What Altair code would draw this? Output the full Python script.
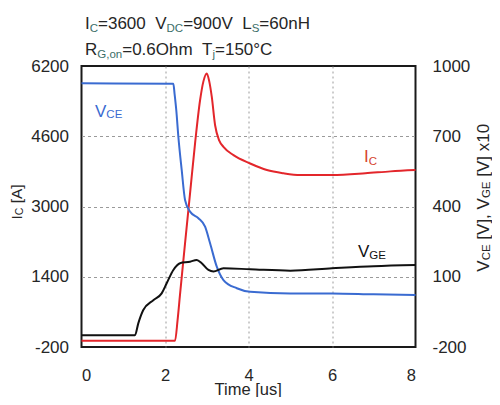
import altair as alt
import pandas as pd

# ---------------- data ----------------
vce_t = [0, 2.20, 2.23, 2.27, 2.32, 2.40, 2.48, 2.60, 2.80, 2.96, 3.08, 3.24, 3.40, 3.72, 4.04, 5.0, 6.0, 7.0, 8.0]
vce_v = [926, 924, 880, 812, 698, 556, 428, 378, 350, 314, 243, 143, 86, 51, 36, 29, 29, 25, 22]

ic_t = [0, 2.24, 2.30, 2.36, 2.48, 2.60, 2.72, 2.84, 2.92, 3.00, 3.06, 3.12, 3.20, 3.30, 3.40,
        3.64, 4.04, 4.44, 4.84, 5.24, 6.0, 6.8, 7.4, 8.0]
ic_a = [-60, -60, 400, 1000, 2160, 3300, 4440, 5420, 5850, 6030, 5850, 5500, 4850, 4500, 4360,
        4170, 3980, 3830, 3756, 3717, 3717, 3756, 3800, 3830]

vge_t = [0, 1.28, 1.36, 1.48, 1.72, 1.92, 2.04, 2.20, 2.36, 2.60, 2.76, 2.88, 3.04, 3.16, 3.40, 4.04, 5.0, 6.0, 7.0, 8.0]
vge_v = [-150, -150, -99, -42, 0, 29, 72, 129, 158, 164, 172, 158, 129, 122, 136, 132, 126, 136, 145, 150]

x_ticks = [0, 2, 4, 6, 8]
left_ticks = [-200, 1400, 3000, 4600, 6200]
right_ticks = [-200, 100, 400, 700, 1000]

# text pieces: (text, is_subscript)
title1 = [("I", False), ("C", True), ("=3600  V", False), ("DC", True), ("=900V  L", False), ("S", True), ("=60nH", False)]
title2 = [("R", False), ("G,on", True), ("=0.6Ohm  T", False), ("j", True), ("=150\u00b0C", False)]
lbl_vce = [("V", False), ("CE", True)]
lbl_ic = [("I", False), ("C", True)]
lbl_vge = [("V", False), ("GE", True)]
xtitle = [("Time [us]", False)]
ytitle_left = [("I", False), ("C", True), (" [A]", False)]
ytitle_right = [("V", False), ("CE", True), (" [V], V", False), ("GE", True), (" [V] x10", False)]

# ---------------- layout ----------------
FONT = "Liberation Sans"
PL, PT, PW, PH = 81.5, 66.0, 334.0, 281.0   # plot area on the page
TOTAL_W, TOTAL_H = 484, 389                 # whole svg (fits inside the 8px page margins)
X0, X1 = 0, 8
Y0, Y1 = -200, 6200

W = {' ': 278, '=': 584, '.': 278, ',': 278, '[': 278, ']': 278, '\u00b0': 400, 'x': 500,
     'I': 278, 'C': 722, 'V': 667, 'D': 722, 'L': 556, 'S': 667, 'R': 722, 'G': 778, 'T': 611,
     'A': 667, 'O': 778, 'E': 667, 'n': 556, 'H': 722, 'h': 556, 'm': 833, 'o': 556, 'j': 222,
     'u': 556, 's': 500, 'i': 222, 'e': 556}
for d in "0123456789":
    W[d] = 556


def twidth(s, size):
    return sum(W.get(c, 556) for c in s) * size / 1000.0


def to_tx(px):
    return (px - PL) / PW * (X1 - X0) + X0


def to_ty(py):
    return Y1 - (py - PT) / PH * (Y1 - Y0)


def compose(pieces, x0, y0, fs, ss, drop, color, subcolor=None, rotated=False, align="left"):
    total = sum(twidth(t, ss if s else fs) for t, s in pieces)
    pos = -total / 2 if align == "center" else 0.0
    rows = []
    for text, sub in pieces:
        size = ss if sub else fs
        lead = len(text) - len(text.lstrip(" "))
        pos += twidth(" " * lead, size)       # leading spaces become an offset
        body = text.lstrip(" ")
        if rotated:
            px, py = x0 + (drop if sub else 0), y0 - pos
        else:
            px, py = x0 + pos, y0 + (drop if sub else 0)
        rows.append(dict(text=body.replace(" ", "\u00a0"), size=size, tx=to_tx(px), ty=to_ty(py),
                         color=(subcolor or color) if sub else color))
        pos += twidth(body, size)
    return rows


TXT = "#262626"
SUBC = "#3b6e68"
BLUE = "#3a6bd1"
RED = "#e3262b"
BLACK = "#111111"

h_rows = []
h_rows += compose(title1, 85, 29.3, 17, 11.5, 3, TXT, SUBC)
h_rows += compose(title2, 85, 55.0, 17, 11.5, 3, TXT, SUBC)
h_rows += compose(lbl_vce, 95, 116.7, 17, 11.5, 1, BLUE)
h_rows += compose(lbl_ic, 364, 161.7, 17, 11.5, 3, "#d6452e")
h_rows += compose(lbl_vge, 358, 256.7, 17, 11.5, 2.5, BLACK)
h_rows += compose(xtitle, PL + PW / 2, 394.5, 16.5, 11, 0, TXT, align="center")
h_df = pd.DataFrame(h_rows)

r_rows = []
r_rows += compose(ytitle_left, 21.5, 219.5, 15.5, 10.5, 1, TXT, rotated=True)
r_rows += compose(ytitle_right, 489, 271.7, 17, 11.5, 1, TXT, rotated=True)
r_df = pd.DataFrame(r_rows)

ic_df = pd.DataFrame({"t": ic_t, "v": ic_a})
vce_df = pd.DataFrame({"t": vce_t, "v": vce_v})
vge_df = pd.DataFrame({"t": vge_t, "v": vge_v})

xscale = alt.Scale(domain=[X0, X1], nice=False, zero=False)
lscale = alt.Scale(domain=[Y0, Y1], nice=False, zero=False)
rscale = alt.Scale(domain=[-200, 1000], nice=False, zero=False)

x_axis = alt.Axis(values=x_ticks, title=None, grid=True, labelFontSize=16.5, labelPadding=20.5,
                  labelColor=TXT, gridDash=[2, 3],
                  gridOpacity={"condition": {"test": "datum.value <= 0 || datum.value >= 8", "value": 0}, "value": 1})
left_axis = alt.Axis(values=left_ticks, title=None, grid=True, labelFontSize=17, labelPadding=13,
                     labelColor=TXT, labelExpr="'' + datum.value", gridDash=[3, 3],
                     gridOpacity={"condition": {"test": "datum.value <= -200 || datum.value >= 6200", "value": 0}, "value": 1})
right_axis = alt.Axis(values=right_ticks, title=None, grid=False, orient="right", labelFontSize=17,
                      labelPadding=16.5, labelColor=TXT, labelExpr="'' + datum.value")

ic_line = alt.Chart(ic_df).mark_line(color=RED, strokeWidth=2, interpolate="monotone").encode(
    x=alt.X("t:Q", scale=xscale, axis=x_axis),
    y=alt.Y("v:Q", scale=lscale, axis=left_axis),
)

h_text = alt.Chart(h_df).mark_text(font=FONT, align="left", baseline="alphabetic").encode(
    x=alt.X("tx:Q", scale=xscale, axis=x_axis),
    y=alt.Y("ty:Q", scale=lscale, axis=left_axis),
    text="text:N",
    size=alt.Size("size:Q", scale=None),
    color=alt.Color("color:N", scale=None),
)

r_text = alt.Chart(r_df).mark_text(font=FONT, align="left", baseline="alphabetic", angle=270).encode(
    x=alt.X("tx:Q", scale=xscale, axis=x_axis),
    y=alt.Y("ty:Q", scale=lscale, axis=left_axis),
    text="text:N",
    size=alt.Size("size:Q", scale=None),
    color=alt.Color("color:N", scale=None),
)

left = alt.layer(ic_line, h_text, r_text)

vce_line = alt.Chart(vce_df).mark_line(color=BLUE, strokeWidth=2, interpolate="monotone").encode(
    x=alt.X("t:Q", scale=xscale, axis=x_axis),
    y=alt.Y("v:Q", scale=rscale, axis=right_axis),
)
vge_line = alt.Chart(vge_df).mark_line(color=BLACK, strokeWidth=2, interpolate="monotone").encode(
    x=alt.X("t:Q", scale=xscale, axis=x_axis),
    y=alt.Y("v:Q", scale=rscale, axis=right_axis),
)
right = alt.layer(vce_line, vge_line)

pad_l = PL - 8
pad_t = PT - 8
chart = alt.layer(left, right).resolve_scale(y="independent").properties(
    width=PW, height=PH,
    padding={"left": pad_l, "top": pad_t, "right": TOTAL_W - pad_l - PW, "bottom": TOTAL_H - pad_t - PH},
    autosize=alt.AutoSizeParams(type="none"),
    background="white",
).configure_view(
    stroke="#1a1a1a", strokeWidth=2
).configure_axis(
    labelFont=FONT, domain=False, ticks=False, gridColor="#9a9a9a", gridWidth=1
)

chart.save("out.html", embed_options={"renderer": "svg", "actions": False})
